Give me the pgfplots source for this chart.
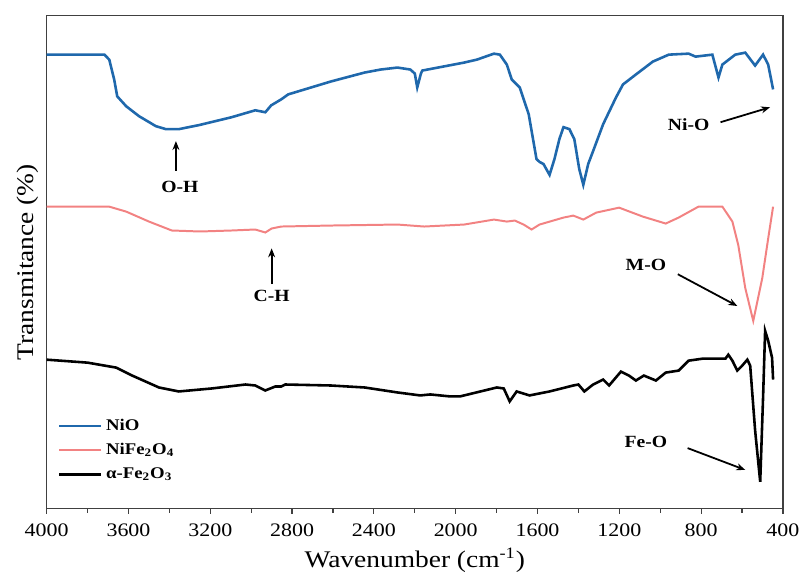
\documentclass[border=0pt]{standalone}
\usepackage{fontspec}
\setmainfont{Liberation Serif}[FakeStretch=1.15]
\usepackage{pgfplots}
\pgfplotsset{compat=1.18}
\usetikzlibrary{arrows.meta}
\definecolor{nioblue}{RGB}{31,104,172}
\definecolor{nfopink}{RGB}{242,130,130}

\begin{document}
\begin{tikzpicture}
\begin{axis}[
  scale only axis, width=370.5pt, height=248pt,
  x dir=reverse, xmin=400, xmax=4000, ymin=72, ymax=568,
  xtick={400,800,...,4000}, minor x tick num=1,
  ytick=\empty,
  xtick pos=bottom, tick align=outside,
  major tick length=2.5pt, minor tick length=2pt,
  axis line style={draw=black!75, line width=0.6pt},
  every tick/.style={black!75, line width=0.6pt},
  /pgf/number format/assume math mode=true,
  /pgf/number format/1000 sep={},
  xticklabel style={font=\fontsize{9.6}{11}\selectfont, yshift=-1.5pt},
  xlabel={Wavenumber (cm\textsuperscript{-1})},
  ylabel={Transmitance (\%)},
  xlabel style={font=\fontsize{12}{14}\selectfont, at={(axis description cs:0.5,-0.105)}, anchor=center},
  ylabel style={font=\fontsize{12}{14}\selectfont, at={(axis description cs:-0.0256,0.5)}, anchor=center},
  legend style={at={(rel axis cs:0.012,0.195)}, anchor=north west, draw=none, fill=none,
    font=\bfseries\fontsize{8.2}{10}\selectfont, row sep=1pt, inner sep=1pt},
  legend cell align=left,
  legend image code/.code={\draw[#1] (0pt,0pt) -- (21pt,0pt);},
]
% NiO
\addplot[nioblue, line width=1.3pt] coordinates {
 (4000,529) (3718,529) (3694,524) (3670,504) (3655,487) (3611,477) (3548,467)
 (3466,457) (3417,454) (3354,454) (3257,458) (3096,466) (2980,473) (2931,471)
 (2902,478) (2853,484) (2819,489) (2610,502) (2445,511) (2367,514) (2285,516)
 (2222,514) (2200,510) (2188,496) (2170,510) (2163,513) (1959,521) (1896,524)
 (1813,530) (1784,529) (1750,519) (1726,504) (1687,496) (1643,469) (1605,424)
 (1590,421) (1571,419) (1541,408) (1517,424) (1493,444) (1473,456) (1444,454)
 (1420,444) (1396,414) (1376,398) (1352,419) (1328,432) (1279,459) (1216,486)
 (1182,499) (1119,509) (1036,522) (958,529) (861,530) (827,527) (745,529)
 (715,506) (696,519) (633,529) (584,531) (536,518) (497,529) (472,519) (448,494)
};
% NiFe2O4
\addplot[nfopink, line width=1pt] coordinates {
 (4000,376) (3694,376) (3611,371) (3500,361) (3388,352) (3250,351) (3096,352)
 (2980,353) (2931,350) (2900,354) (2853,356) (2610,357) (2285,358) (2154,356)
 (1959,358) (1813,363) (1750,361) (1711,362) (1668,358) (1629,353) (1590,358)
 (1473,365) (1425,367) (1376,363) (1313,370) (1201,375) (1085,366) (973,359)
 (910,365) (813,376) (696,376) (647,361) (618,337) (584,294) (545,261)
 (501,304) (472,344) (448,376)
};
% alpha-Fe2O3
\addplot[black, line width=1.3pt] coordinates {
 (4000,222) (3800,219) (3660,214) (3582,206) (3451,194) (3354,190) (3193,193) (3028,197)
 (2980,196) (2931,191) (2882,195) (2853,195) (2834,197) (2610,196) (2445,194)
 (2285,189) (2173,186) (2124,187) (2027,185) (1979,185) (1799,194) (1765,193)
 (1736,180) (1702,190) (1639,186) (1541,190) (1425,196) (1400,197) (1371,190)
 (1328,197) (1279,202) (1250,196) (1192,210) (1153,206) (1119,201) (1080,206)
 (1021,201) (973,209) (910,211) (861,221) (793,223) (681,223) (667,227)
 (647,221) (623,211) (599,216) (574,222) (560,216) (536,151) (511,99)
 (497,184) (487,251) (472,241) (453,224) (448,202)
};
\legend{NiO, NiFe\textsubscript{2}O\textsubscript{4}, α-Fe\textsubscript{2}O\textsubscript{3}}

\tikzset{lbl/.style={font=\bfseries\fontsize{8.6}{10}\selectfont},
         arr/.style={-{Stealth[length=4.5pt,width=3.5pt]}, line width=0.9pt}}
\node[lbl] at (3349,396) {O-H};
\draw[arr] (3368,412) -- (3368,442);
\node[lbl] at (2900,286) {C-H};
\draw[arr] (2900,298) -- (2900,334);
\node[lbl] at (861,459) {Ni-O};
\draw[arr] (705,461) -- (463,476);
\node[lbl] at (1070,317) {M-O};
\draw[arr] (914,308) -- (623,276);
\node[lbl] at (1070,139) {Fe-O};
\draw[arr] (866,133) -- (584,111);
\end{axis}
\path ([xshift=-23.5pt,yshift=8pt]current axis.north west) -- ([xshift=9pt,yshift=-36pt]current axis.south east);
\end{tikzpicture}
\end{document}
